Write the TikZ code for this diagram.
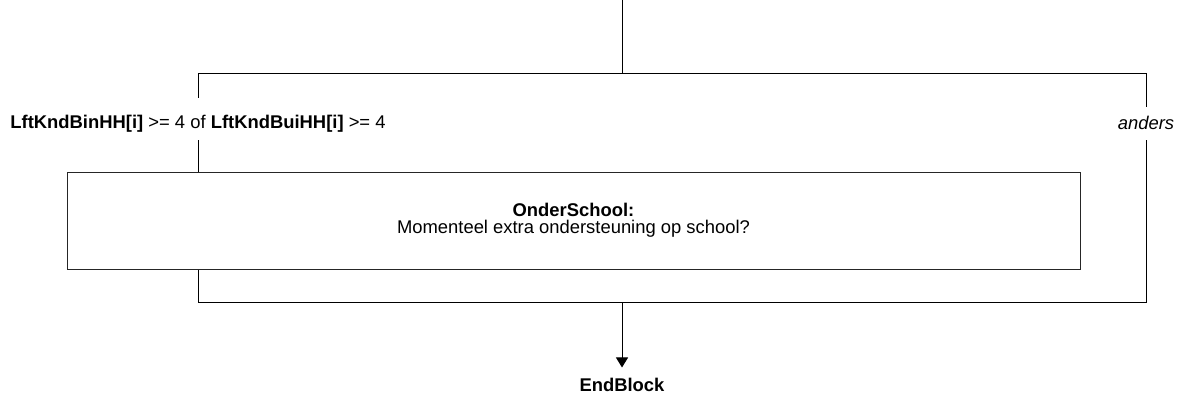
\documentclass[tikz,border=0pt]{standalone}
\usepackage{fontspec}
\setmainfont{Liberation Sans}
\usetikzlibrary{arrows.meta}
\tikzset{
	flow/.style={line width=1pt, color=black},
	txt/.style={inner xsep=0pt, font=\fontsize{18.4}{17}\selectfont},
	question/.style={draw, line width=1pt, color=black!85, text=black, minimum width=1013pt, minimum height=97pt, inner sep=0pt, align=center, font=\fontsize{18.4}{17}\selectfont},
}

\begin{document}
\begin{tikzpicture}[x=1pt, y=-1pt]
		%%%%% START %%%%%
		\useasboundingbox (0, 0) rectangle (1188, 400);
		
		\coordinate (entry) at (622, 0);
		\coordinate (forkL) at (198, 73);
		\coordinate (forkM) at (622, 73);
		\coordinate (forkR) at (1146, 73);
		
		\node[txt, anchor=base, text height=22pt, text depth=4pt, inner ysep=8pt] (ifLft) at (198, 128) {\textbf{LftKndBinHH[i]} >= 4 of \textbf{LftKndBuiHH[i]} >= 4};
		\node[txt, anchor=base, text height=14pt, text depth=3pt, inner ysep=8pt] (anders) at (1146, 129) {\textit{anders}};
		
		\node[question] (onderSchool) at (573.5, 220.5) {\textbf{OnderSchool:}\\Momenteel extra ondersteuning op school?};
		
		\coordinate (joinL) at (198, 302);
		\coordinate (joinM) at (622, 302);
		\coordinate (joinR) at (1146, 302);
		
		\node[txt, anchor=base, inner ysep=10pt] (endBlock) at (622, 391) {\textbf{EndBlock}};
		
		\draw[flow] (entry) -- (forkM);
		\draw[flow] (ifLft) -- (forkL) -- (forkR) -- (anders);
		\draw[flow] (ifLft) -- (ifLft |- onderSchool.north);
		\draw[flow] (anders) -- (joinR) -- (joinL) -- (joinL |- onderSchool.south);
		\draw[flow, -{Triangle[width=12pt, length=10pt]}] (joinM) -- (endBlock);
		
		%%%%% END %%%%%
	\end{tikzpicture}
\end{document}
